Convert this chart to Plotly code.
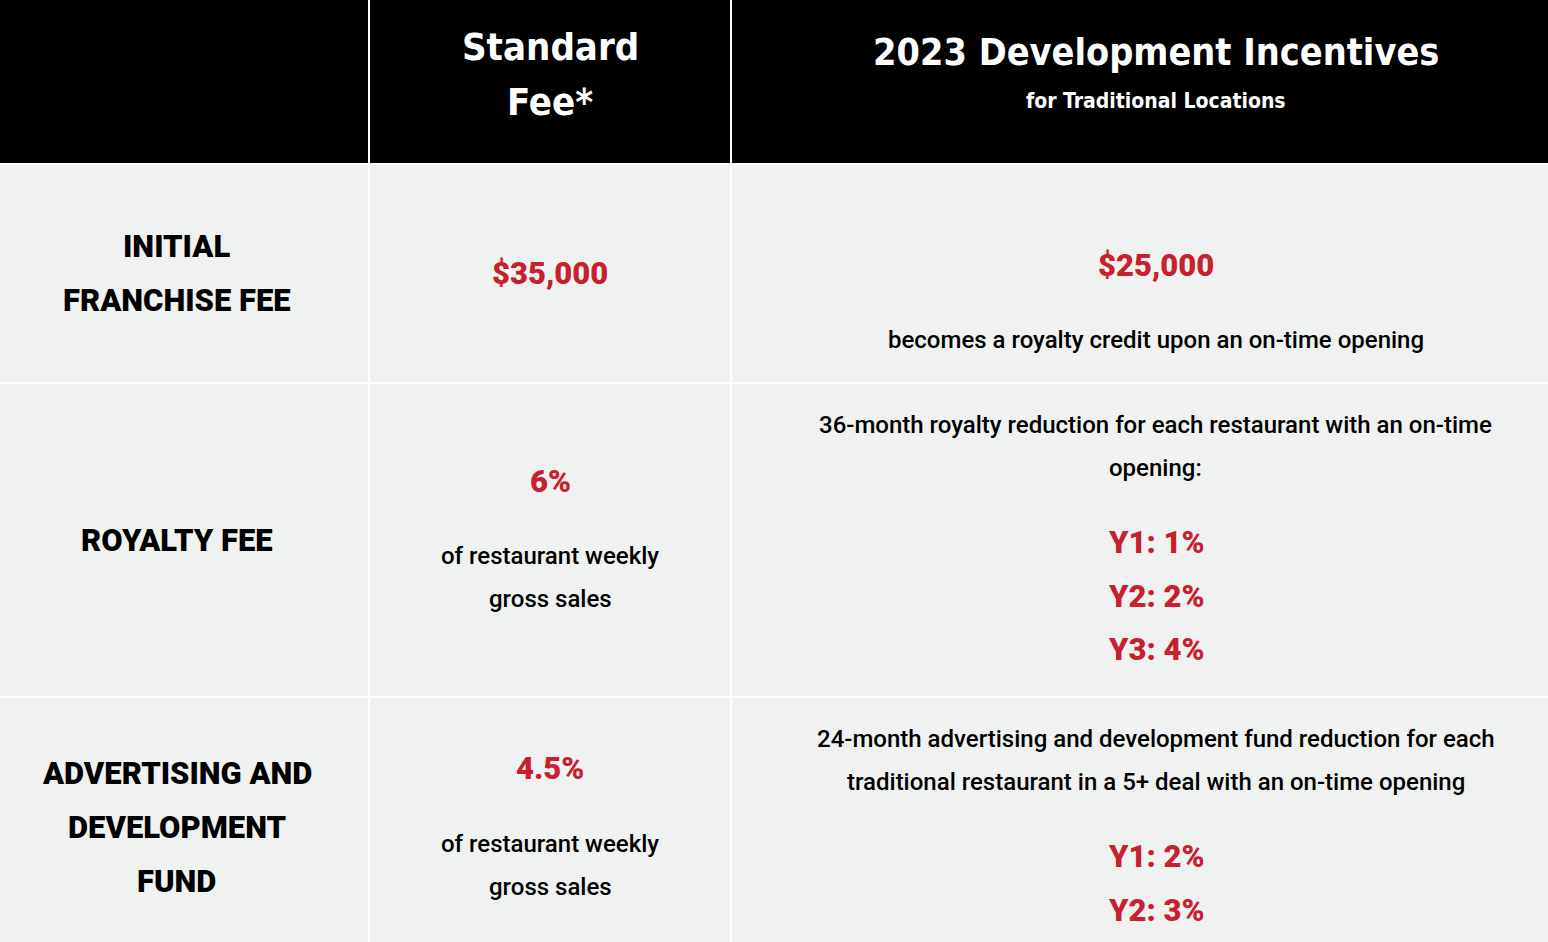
import plotly.graph_objects as go

# ---------------- data ----------------
header_cells = [
    [],
    [["Standard", "Fee*"]],
    [["2023 Development Incentives", "for Traditional Locations"]],
]
header_styles = [[], [["head", "head"]], [["head2", "sub"]]]

row_labels = [
    ["INITIAL", "FRANCHISE FEE"],
    ["ROYALTY FEE"],
    ["ADVERTISING AND", "DEVELOPMENT", "FUND"],
]
standard_values = ["$35,000", "6%", "4.5%"]
standard_notes = [[], ["of restaurant weekly", "gross sales"], ["of restaurant weekly", "gross sales"]]
incentive_values = [["$25,000"], [], []]
incentive_notes = [
    ["becomes a royalty credit upon an on-time opening"],
    ["36-month royalty reduction for each restaurant with an on-time", "opening:"],
    ["24-month advertising and development fund reduction for each",
     "traditional restaurant in a 5+ deal with an on-time opening"],
]
incentive_steps = [[], ["Y1: 1%", "Y2: 2%", "Y3: 4%"], ["Y1: 2%", "Y2: 3%"]]

# ---------------- layout / style ----------------
W, H = 1548, 942
col_edges = [-16, 369, 731, 1580]
row_edges = [0, 164, 383, 697, 958]
GAP = 2
HEADER_BG = "#000000"
CELL_BG = "#f0f2f1"
RED = "#c8202f"
BLACK = "#000000"
WHITE = "#ffffff"

COND = "DejaVu Sans Condensed, Liberation Sans Narrow, Roboto, sans-serif"
styles = {
    "head":  dict(family=COND, size=38, color=WHITE, weight=700, lh=55),
    "head2": dict(family=COND, size=37.5, color=WHITE, weight=700, lh=55),
    "sub":   dict(family=COND, size=21, color=WHITE, weight=700, lh=49),
    "label": dict(family="Roboto", size=31, color=BLACK, weight=900, lh=54),
    "red":   dict(family="Roboto", size=31, color=RED, weight=900, lh=53.5),
    "body":  dict(family="Roboto", size=24, color=BLACK, weight=500, lh=43),
}
PARA_GAP = 75
cell_offsets = {(0, 1): -7.5, (0, 2): -5.5, (1, 2): 29, (2, 2): -3, (3, 2): -3}

fig = go.Figure()
shapes = []
annotations = []


def add_cell(r, c, paragraphs, bg):
    x0 = col_edges[c] + (GAP / 2 if c > 0 else 0)
    x1 = col_edges[c + 1] - (GAP / 2 if c < len(col_edges) - 2 else 0)
    y0 = row_edges[r] + (GAP / 2 if r > 0 else 0)
    y1 = row_edges[r + 1] - GAP / 2
    shapes.append(dict(type="rect", xref="x", yref="y", x0=x0, x1=x1, y0=y0, y1=y1,
                       fillcolor=bg, line=dict(width=0), layer="below"))
    ys = []
    items = []
    y = 0.0
    first = True
    for p in paragraphs:
        for i, (txt, st) in enumerate(p):
            if not first:
                y += PARA_GAP if i == 0 else styles[st]["lh"]
            first = False
            ys.append(y)
            items.append((txt, st))
    if not items:
        return
    center = (row_edges[r] + row_edges[r + 1]) / 2 + cell_offsets.get((r, c), 0)
    shift = center - (ys[0] + ys[-1]) / 2
    xc = (col_edges[c] + col_edges[c + 1]) / 2
    for (txt, st), yy in zip(items, ys):
        s = styles[st]
        annotations.append(dict(x=xc, y=yy + shift, xref="x", yref="y", text=txt,
                                showarrow=False, xanchor="center", yanchor="middle",
                                font=dict(family=s["family"], size=s["size"],
                                          color=s["color"], weight=s["weight"])))


for c in range(3):
    paras = [list(zip(p, st)) for p, st in zip(header_cells[c], header_styles[c])]
    add_cell(0, c, paras, HEADER_BG)

for r in range(3):
    add_cell(r + 1, 0, [[(t, "label") for t in row_labels[r]]], CELL_BG)
    paras = [[(standard_values[r], "red")]]
    if standard_notes[r]:
        paras.append([(t, "body") for t in standard_notes[r]])
    add_cell(r + 1, 1, paras, CELL_BG)
    paras = []
    if incentive_values[r]:
        paras.append([(t, "red") for t in incentive_values[r]])
    paras.append([(t, "body") for t in incentive_notes[r]])
    if incentive_steps[r]:
        paras.append([(t, "red") for t in incentive_steps[r]])
    add_cell(r + 1, 2, paras, CELL_BG)

fig.update_layout(
    width=W, height=H,
    margin=dict(l=0, r=0, t=0, b=0),
    paper_bgcolor=WHITE, plot_bgcolor=WHITE,
    xaxis=dict(range=[0, W], visible=False, fixedrange=True),
    yaxis=dict(range=[H, 0], visible=False, fixedrange=True),
    shapes=shapes, annotations=annotations, showlegend=False,
)
fig.write_html(
    "out.html",
    config={"displayModeBar": False},
    post_script="document.body.style.margin='0';document.body.style.overflow='hidden';",
)
